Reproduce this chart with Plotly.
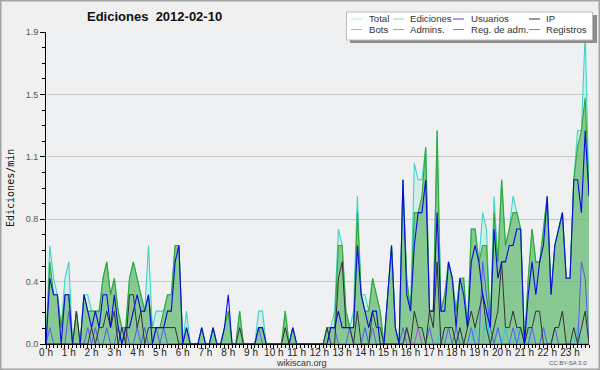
import plotly.graph_objects as go

# ---- data (values in Ediciones/min, one value per 10-minute slot) ----
total = [0.0,0.6,0.4,0.3,0.1,0.4,0.5,0.0,0.2,0.0,0.3,0.3,0.2,0.2,0.2,0.4,0.5,0.3,0.4,0.2,
         0.1,0.1,0.4,0.5,0.4,0.3,0.2,0.6,0.1,0.2,0.2,0.2,0.3,0.3,0.6,0.6,0.0,0.2,0.0,0.0,
         0.0,0.1,0.0,0.0,0.1,0.0,0.0,0.1,0.2,0.0,0.0,0.2,0.0,0.0,0.0,0.0,0.2,0.2,0.0,0.0,
         0.0,0.0,0.0,0.2,0.0,0.1,0.0,0.0,0.0,0.0,0.0,0.0,0.0,0.0,0.1,0.1,0.2,0.7,0.6,0.2,
         0.1,0.2,0.9,0.3,0.3,0.2,0.4,0.3,0.2,0.0,0.3,0.6,0.1,0.0,1.0,0.4,0.2,1.1,1.0,1.0,
         1.2,0.2,0.2,1.3,0.2,0.3,0.5,0.4,0.2,0.4,0.4,0.1,0.7,0.7,0.5,0.8,0.7,0.1,0.9,0.5,
         1.0,0.6,0.7,0.9,0.8,0.7,0.0,0.4,0.7,0.5,0.5,0.7,0.9,0.3,0.6,0.7,0.8,0.4,0.4,1.0,
         1.3,1.3,1.9,0.9]
ediciones = [0.0,0.5,0.3,0.3,0.1,0.3,0.3,0.0,0.2,0.0,0.3,0.2,0.2,0.2,0.2,0.4,0.5,0.3,0.4,0.2,
             0.1,0.1,0.4,0.5,0.4,0.3,0.2,0.3,0.1,0.1,0.1,0.2,0.3,0.3,0.6,0.6,0.0,0.1,0.0,0.0,
             0.0,0.1,0.0,0.0,0.1,0.0,0.0,0.1,0.2,0.0,0.0,0.2,0.0,0.0,0.0,0.0,0.1,0.1,0.0,0.0,
             0.0,0.0,0.0,0.2,0.0,0.1,0.0,0.0,0.0,0.0,0.0,0.0,0.0,0.0,0.1,0.1,0.1,0.6,0.6,0.2,
             0.1,0.1,0.8,0.3,0.2,0.2,0.4,0.3,0.2,0.0,0.3,0.6,0.1,0.0,1.0,0.4,0.2,0.8,0.8,0.9,
             1.2,0.2,0.2,1.3,0.2,0.3,0.5,0.4,0.2,0.4,0.4,0.1,0.7,0.7,0.5,0.6,0.6,0.1,0.8,0.5,
             1.0,0.6,0.7,0.8,0.8,0.7,0.0,0.4,0.7,0.5,0.5,0.7,0.9,0.3,0.6,0.7,0.8,0.4,0.4,1.0,
             1.2,1.3,1.5,0.9]
usuarios = [0.0,0.4,0.3,0.3,0.0,0.3,0.3,0.0,0.0,0.0,0.3,0.2,0.1,0.2,0.1,0.3,0.3,0.1,0.3,0.1,
            0.0,0.1,0.1,0.2,0.3,0.2,0.2,0.3,0.0,0.1,0.1,0.1,0.2,0.2,0.5,0.6,0.0,0.1,0.0,0.0,
            0.0,0.1,0.0,0.0,0.1,0.0,0.0,0.1,0.3,0.0,0.0,0.0,0.0,0.0,0.0,0.0,0.1,0.1,0.0,0.0,
            0.0,0.0,0.0,0.0,0.0,0.1,0.0,0.0,0.0,0.0,0.0,0.0,0.0,0.0,0.0,0.1,0.1,0.2,0.1,0.1,
            0.1,0.1,0.6,0.3,0.2,0.1,0.2,0.2,0.0,0.0,0.3,0.6,0.1,0.0,1.0,0.3,0.2,0.6,0.8,0.8,
            1.0,0.2,0.2,0.8,0.2,0.2,0.5,0.4,0.1,0.4,0.3,0.1,0.5,0.6,0.5,0.3,0.2,0.1,0.7,0.4,
            0.5,0.5,0.6,0.6,0.7,0.7,0.0,0.3,0.5,0.3,0.5,0.6,0.9,0.3,0.6,0.7,0.8,0.4,0.4,1.0,
            1.0,0.8,1.3,0.9]
ip = [0.0,0.0,0.0,0.0,0.0,0.0,0.0,0.0,0.2,0.0,0.0,0.0,0.1,0.0,0.1,0.1,0.2,0.1,0.2,0.0,
      0.1,0.0,0.3,0.3,0.1,0.2,0.0,0.1,0.1,0.1,0.1,0.1,0.1,0.1,0.1,0.0,0.0,0.0,0.0,0.0,
      0.0,0.0,0.0,0.0,0.0,0.0,0.0,0.0,0.0,0.0,0.0,0.1,0.0,0.0,0.0,0.0,0.0,0.0,0.0,0.0,
      0.0,0.0,0.0,0.1,0.0,0.0,0.0,0.0,0.0,0.0,0.0,0.0,0.0,0.0,0.1,0.0,0.0,0.4,0.5,0.1,
      0.1,0.0,0.2,0.0,0.0,0.0,0.2,0.1,0.1,0.0,0.0,0.0,0.0,0.0,0.0,0.1,0.0,0.2,0.1,0.1,
      0.0,0.2,0.1,0.5,0.0,0.1,0.1,0.1,0.0,0.1,0.0,0.1,0.2,0.1,0.2,0.3,0.1,0.0,0.1,0.2,
      0.5,0.1,0.1,0.2,0.1,0.1,0.0,0.1,0.1,0.2,0.2,0.0,0.0,0.0,0.1,0.1,0.2,0.0,0.0,0.1,
      0.0,0.1,0.2,0.0]
registros = [0.0,0.1,0.0,0.0,0.0,0.0,0.2,0.0,0.0,0.0,0.0,0.1,0.0,0.1,0.0,0.0,0.1,0.0,0.0,0.1,
             0.0,0.1,0.0,0.0,0.1,0.0,0.1,0.0,0.0,0.1,0.0,0.1,0.0,0.0,0.0,0.0,0.0,0.0,0.0,0.0,
             0.0,0.0,0.0,0.0,0.0,0.0,0.0,0.0,0.0,0.0,0.0,0.0,0.0,0.0,0.0,0.0,0.1,0.0,0.0,0.0,
             0.0,0.0,0.0,0.0,0.0,0.0,0.0,0.0,0.0,0.0,0.0,0.0,0.0,0.0,0.0,0.1,0.1,0.0,0.0,0.0,
             0.1,0.0,0.0,0.0,0.1,0.0,0.1,0.0,0.0,0.0,0.0,0.0,0.0,0.0,0.1,0.0,0.0,0.0,0.0,0.0,
             0.0,0.1,0.0,0.0,0.0,0.0,0.1,0.0,0.1,0.0,0.0,0.0,0.1,0.0,0.0,0.5,0.3,0.1,0.0,0.1,
             0.0,0.0,0.0,0.1,0.0,0.1,0.0,0.0,0.1,0.0,0.0,0.1,0.0,0.0,0.1,0.0,0.0,0.0,0.0,0.0,
             0.0,0.5,0.4,0.0]
admins = [0.0,0.0,0.0,0.0,0.0,0.0,0.0,0.0,0.0,0.0,0.0,0.0,0.0,0.0,0.0,0.0,0.0,0.0,0.0,0.0,
          0.0,0.0,0.0,0.0,0.0,0.0,0.0,0.0,0.0,0.0,0.0,0.0,0.0,0.0,0.0,0.0,0.0,0.0,0.0,0.0,
          0.0,0.0,0.0,0.0,0.0,0.0,0.0,0.0,0.0,0.0,0.0,0.0,0.0,0.0,0.0,0.0,0.0,0.0,0.0,0.0,
          0.0,0.0,0.0,0.0,0.0,0.0,0.0,0.0,0.0,0.0,0.0,0.0,0.0,0.0,0.0,0.0,0.0,0.0,0.0,0.0,
          0.0,0.0,0.0,0.0,0.1,0.0,0.0,0.0,0.0,0.0,0.0,0.0,0.0,0.0,0.0,0.1,0.0,0.0,0.0,0.0,
          0.0,0.0,0.0,0.0,0.1,0.0,0.0,0.0,0.0,0.1,0.0,0.0,0.0,0.1,0.0,0.0,0.2,0.0,0.0,0.1,
          0.0,0.1,0.0,0.0,0.1,0.0,0.0,0.1,0.0,0.0,0.0,0.1,0.0,0.0,0.0,0.0,0.0,0.0,0.0,0.0,
          0.1,0.0,0.0,0.0]
reg_adm = [0.0]*95 + [0.1, 0.0, 0.0, 0.1] + [0.0]*45
bots = [0.0]*144

hour_labels_suffix = " h"
legend_names = ["Total", "Ediciones", "Usuarios", "IP", "Bots", "Admins.", "Reg. de adm.", "Registros"]

x_hours = [i / 6 for i in range(len(total))]

# ---- layout geometry ----
W, H = 600, 370
ML, MR, MT, MB = 46, 11, 32, 26
PW, PH = W - ML - MR, H - MT - MB

def xp(px):
    return (px - ML) / PW

def yp(py):
    return (MT + PH - py) / PH

fig = go.Figure()

fig.add_trace(go.Scatter(x=x_hours, y=total, mode="lines", fill="tozeroy",
                         fillcolor="rgba(175,232,222,0.40)",
                         line=dict(color="#3fd4c6", width=1.1), name="Total"))
fig.add_trace(go.Scatter(x=x_hours, y=ediciones, mode="lines", fill="tozeroy",
                         fillcolor="rgba(60,165,60,0.50)",
                         line=dict(color="#33a833", width=1.1), name="Ediciones"))
fig.add_trace(go.Scatter(x=x_hours, y=bots, mode="lines",
                         line=dict(color="#f0a040", width=1), name="Bots"))
fig.add_trace(go.Scatter(x=x_hours, y=admins, mode="lines",
                         line=dict(color="#30c4e0", width=1), name="Admins."))
fig.add_trace(go.Scatter(x=x_hours, y=reg_adm, mode="lines",
                         line=dict(color="#c040e0", width=1), name="Reg. de adm."))
fig.add_trace(go.Scatter(x=x_hours, y=registros, mode="lines",
                         line=dict(color="#5a5af0", width=1), name="Registros"))
fig.add_trace(go.Scatter(x=x_hours, y=ip, mode="lines",
                         line=dict(color="#333333", width=1), name="IP"))
fig.add_trace(go.Scatter(x=x_hours, y=usuarios, mode="lines",
                         line=dict(color="#0a0ae0", width=1.1), name="Usuarios"))

ytv = [0, 0.38, 0.76, 1.14, 1.52, 1.9]
ytt = ["0.0", "0.4", "0.8", "1.1", "1.5", "1.9"]

fig.update_layout(
    width=W, height=H,
    margin=dict(l=ML, r=MR, t=MT, b=MB, pad=0, autoexpand=False),
    paper_bgcolor="#f0f0f0",
    plot_bgcolor="#eff0f2",
    showlegend=False,
    hovermode=False,
    xaxis=dict(range=[0, x_hours[-1]], tickmode="linear", tick0=0, dtick=1,
               ticksuffix=hour_labels_suffix, tickformat="d", automargin=False,
               showline=True, linecolor="black", linewidth=1,
               ticks="outside", ticklen=4, tickcolor="black", tickwidth=1,
               ticklabelstandoff=-5,
               showgrid=False, zeroline=False,
               tickfont=dict(family="Liberation Sans, Arial", size=10, color="#222"),
               minor=dict(tickmode="linear", tick0=0, dtick=1/6, ticks="outside",
                          ticklen=3, tickcolor="black", showgrid=False)),
    yaxis=dict(range=[0, 1.9], tickmode="array", tickvals=ytv, ticktext=ytt,
               automargin=False,
               showline=True, linecolor="black", linewidth=1,
               ticks="outside", ticklen=5, tickcolor="black", tickwidth=1,
               showgrid=True, gridcolor="#c8c8c8", gridwidth=1, zeroline=False,
               tickfont=dict(family="Liberation Sans, Arial", size=9, color="#555"),
               minor=dict(tickmode="linear", tick0=0, dtick=0.095, ticks="outside",
                          ticklen=3, tickcolor="black", showgrid=False)),
)

shapes = []
# outer border
shapes.append(dict(type="rect", xref="paper", yref="paper",
                   x0=xp(0.5), x1=xp(599.5), y0=yp(369.5), y1=yp(0.5),
                   line=dict(color="#a4a4a4", width=2), fillcolor="rgba(0,0,0,0)", layer="above"))
# legend shadow and box
shapes.append(dict(type="rect", xref="paper", yref="paper",
                   x0=xp(350), x1=xp(597), y0=yp(43), y1=yp(15),
                   line=dict(width=0), fillcolor="#8c8c8c", layer="above"))
shapes.append(dict(type="rect", xref="paper", yref="paper",
                   x0=xp(346.5), x1=xp(592.5), y0=yp(40), y1=yp(12),
                   line=dict(color="#bdbdbd", width=1), fillcolor="#ffffff", layer="above"))

legend_colors = ["#b4ece6", "#8ed88e", "#4848e8", "#333333",
                 "#f5a640", "#48c8e0", "#d048e0", "#7878f0"]
col_line_x = [351, 393, 453, 529]
col_text_x = [366.5, 408, 469, 544]
row_y = [19, 29.5]

annotations = []
for k, name in enumerate(legend_names):
    r, c = divmod(k, 4)
    shapes.append(dict(type="line", xref="paper", yref="paper",
                       x0=xp(col_line_x[c]), x1=xp(col_line_x[c] + 11),
                       y0=yp(row_y[r]), y1=yp(row_y[r]),
                       line=dict(color=legend_colors[k], width=1), layer="above"))
    annotations.append(dict(text=name, xref="paper", yref="paper",
                            x=xp(col_text_x[c]), y=yp(row_y[r]),
                            xanchor="left", yanchor="middle", showarrow=False,
                            font=dict(family="Liberation Sans, Arial", size=9.6, color="#333")))

annotations.append(dict(text="<b>Ediciones\u00a0 2012-02-10</b>", xref="paper", yref="paper",
                        x=xp(154), y=yp(17), xanchor="center", yanchor="middle",
                        showarrow=False,
                        font=dict(family="Liberation Sans, Arial", size=13, color="#111")))
annotations.append(dict(text="Ediciones/min", xref="paper", yref="paper",
                        x=xp(10), y=yp(188), xanchor="center", yanchor="middle",
                        textangle=-90, showarrow=False,
                        font=dict(family="DejaVu Sans Mono", size=10, color="#111")))
annotations.append(dict(text="wikiscan.org", xref="paper", yref="paper",
                        x=xp(301), y=yp(362.5), xanchor="center", yanchor="middle",
                        showarrow=False,
                        font=dict(family="Liberation Sans, Arial", size=9, color="#333")))
annotations.append(dict(text="CC BY-SA 3.0", xref="paper", yref="paper",
                        x=xp(589), y=yp(363), xanchor="right", yanchor="middle",
                        showarrow=False,
                        font=dict(family="Liberation Sans, Arial", size=6, color="#555")))

fig.update_layout(shapes=shapes, annotations=annotations)

fig.write_html("out.html",
               config={"displayModeBar": False},
               post_script="document.body.style.margin='0';"
                           "document.body.style.background='#f0f0f0';")
